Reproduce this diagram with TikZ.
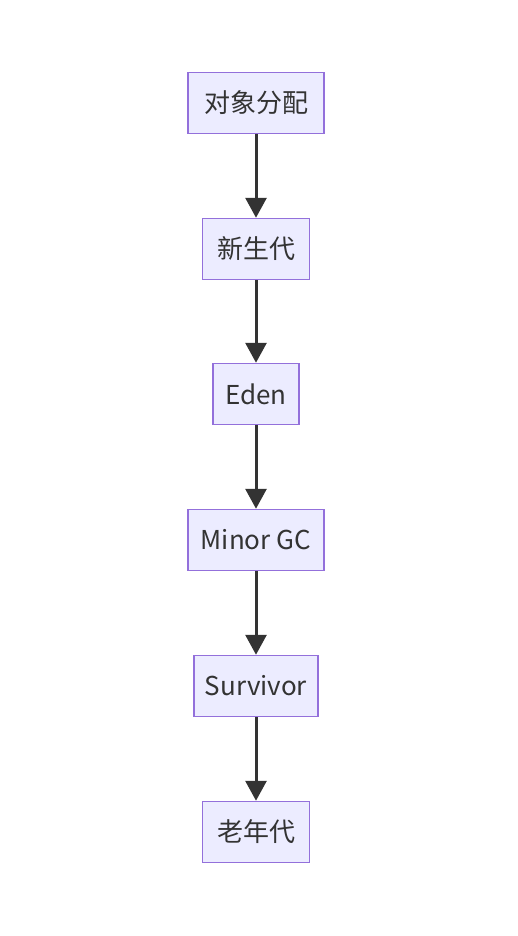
\documentclass[tikz,border=0pt]{standalone}
\usepackage{fontspec}
\setmainfont{Noto Sans CJK SC}
\usetikzlibrary{arrows.meta}
\definecolor{boxfill}{HTML}{ECECFF}
\definecolor{boxline}{HTML}{9370DB}
\definecolor{flowline}{HTML}{333333}

\begin{document}
\begin{tikzpicture}[x=1pt,y=-1pt,
  stage/.style={draw=boxline,fill=boxfill,line width=1.5pt,inner sep=0pt,minimum height=61pt,text=flowline,font=\fontsize{26}{30}\selectfont},
  flow/.style={draw=flowline,line width=3pt,-{Triangle[width=21pt,length=20pt]}}]
\useasboundingbox (0,0) rectangle (518,936);
\foreach \n/\t/\w/\y in {alloc/对象分配/136pt/103, young/新生代/107pt/249, eden/Eden/86pt/394, minor/Minor GC/136pt/540, surv/Survivor/124pt/686, old/老年代/107pt/832}
{\node[stage,minimum width=\w] (\n) at (256,\y) {\t};}
\foreach \s/\e in {alloc/young,young/eden,eden/minor,minor/surv,surv/old}
{\draw[flow] (\s) -- (\e);}
\end{tikzpicture}
\end{document}
